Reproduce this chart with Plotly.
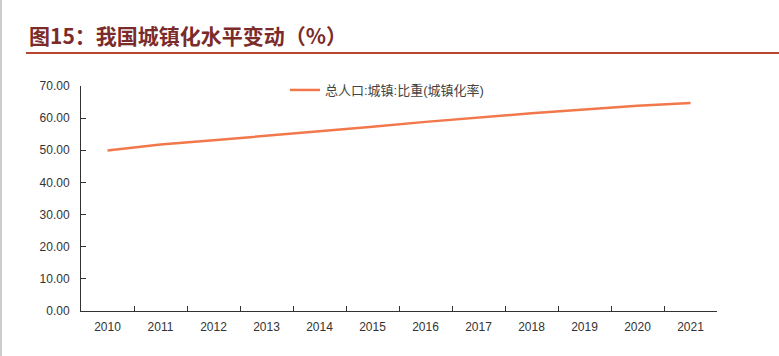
import plotly.graph_objects as go

years = ["2010", "2011", "2012", "2013", "2014", "2015", "2016", "2017", "2018", "2019", "2020", "2021"]
urban_rate = [49.95, 51.83, 53.10, 54.49, 55.75, 57.33, 58.84, 60.24, 61.50, 62.71, 63.89, 64.72]
series_name = "总人口:城镇:比重(城镇化率)"
title_text = "图15：我国城镇化水平变动（%）"

W, H = 779, 356
L, R, T, B = 81, 62, 86, 45
pw, ph = W - L - R, H - T - B

def px(x):
    return (x - L) / pw

def py(y):
    return (H - B - y) / ph

fig = go.Figure()
fig.add_trace(go.Scatter(
    x=years, y=urban_rate, mode="lines", name=series_name,
    line=dict(color="#F2784B", width=2.5),
))

fig.update_layout(
    width=W, height=H,
    margin=dict(l=L, r=R, t=T, b=B, autoexpand=False),
    paper_bgcolor="white", plot_bgcolor="white",
    font=dict(family="Liberation Sans, Arial, Noto Sans CJK SC", size=12, color="#333333"),
    showlegend=True,
    legend=dict(
        x=px(285), y=py(90), xanchor="left", yanchor="middle",
        bgcolor="rgba(0,0,0,0)",
        font=dict(family="Liberation Sans, Noto Sans CJK SC", size=13, color="#444444"),
    ),
    xaxis=dict(
        type="category", range=[-0.5, len(years) - 0.5],
        showline=True, linecolor="#333333", linewidth=1,
        ticks="inside", ticklen=5, tickcolor="#333333", tickson="boundaries",
        showgrid=False, zeroline=False, ticklabelstandoff=5,
        tickfont=dict(size=12, color="#333333"),
    ),
    yaxis=dict(
        range=[0, 70], dtick=10, tickformat=".2f",
        showline=True, linecolor="#333333", linewidth=1,
        ticks="inside", ticklen=5, tickcolor="#333333",
        showgrid=False, zeroline=False, ticklabelstandoff=8,
        tickfont=dict(size=12, color="#333333"),
    ),
)

fig.add_annotation(
    text="<b>" + title_text + "</b>", xref="paper", yref="paper",
    x=px(27), y=py(35), xanchor="left", yanchor="middle", showarrow=False,
    font=dict(family="Noto Sans CJK SC", size=21, color="#7B2C2A"),
)
fig.add_shape(
    type="line", xref="paper", yref="paper",
    x0=px(26), x1=px(779), y0=py(53), y1=py(53),
    line=dict(color="#B5452E", width=2),
)
fig.add_shape(
    type="line", xref="paper", yref="paper",
    x0=px(1), x1=px(1), y0=py(0), y1=py(356),
    line=dict(color="#CCCCCC", width=2),
)

fig.write_html("out.html", config={"displayModeBar": False},
               post_script="document.body.style.margin='0';")
